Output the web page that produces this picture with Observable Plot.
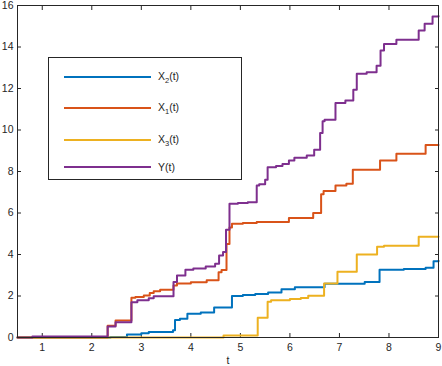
<!DOCTYPE html>
<html>
<head>
<meta charset="utf-8">
<script src="https://cdn.jsdelivr.net/npm/d3@7"></script>
<script src="https://cdn.jsdelivr.net/npm/@observablehq/plot@0.6"></script>
<style>
  html, body { margin: 0; padding: 0; background: #fff; }
  #wrap { position: relative; width: 442px; height: 366px; font-family: "Liberation Sans", Arial, Helvetica, sans-serif; }
  #legend { position: absolute; left: 48px; top: 57px; width: 194px; height: 123px; border: 1px solid #262626; background: #fff; box-sizing: border-box; }
  .item { position: absolute; left: 15px; height: 14px; display: flex; align-items: center; }
  .item .sw { width: 87px; height: 2px; }
  .item .lb { margin-left: 7px; font-size: 10.5px; color: #262626; white-space: nowrap; }
  .item .lb sub { font-size: 7.5px; vertical-align: -3px; }
</style>
</head>
<body>
<div id="wrap"><div id="legend"></div></div>
<script>
// Step-function data: [t, value] (value holds until next t)
const seriesX2 = [[0.5,0],[2.38,0.03],[2.71,0.14],[3.0,0.2],[3.15,0.27],[3.64,0.35],[3.68,0.84],[3.78,0.9],[3.93,1.15],[4.2,1.2],[4.47,1.45],[4.83,2.0],[5.05,2.05],[5.3,2.1],[5.56,2.17],[5.83,2.33],[6.10,2.42],[6.70,2.59],[7.51,2.67],[7.81,3.26],[8.3,3.3],[8.74,3.36],[8.90,3.68],[9.0,3.7]];
const seriesX1 = [[0.5,0],[2.32,0.57],[2.48,0.82],[2.80,1.91],[2.88,1.95],[3.05,2.02],[3.17,2.14],[3.25,2.23],[3.38,2.30],[3.65,2.51],[3.72,2.60],[4.0,2.66],[4.32,2.76],[4.56,3.15],[4.62,3.25],[4.72,4.51],[4.78,5.3],[4.83,5.48],[5.05,5.52],[5.33,5.57],[5.98,5.76],[6.47,6.0],[6.63,6.9],[6.68,7.06],[6.92,7.33],[7.14,7.41],[7.27,8.08],[7.82,8.53],[8.15,8.85],[8.74,9.28],[9.0,9.28]];
const seriesX3 = [[0.5,0],[4.66,0.1],[5.35,0.95],[5.55,1.72],[5.62,1.80],[6.0,1.85],[6.22,1.90],[6.37,2.01],[6.69,2.60],[6.96,3.17],[7.35,4.0],[7.76,4.37],[7.9,4.42],[8.60,4.86],[9.0,4.86]];
const seriesY = [[0.5,0],[0.8,0.05],[2.32,0.53],[2.48,0.74],[2.80,1.70],[2.92,1.79],[3.15,1.89],[3.25,1.99],[3.65,2.67],[3.72,2.99],[3.89,3.26],[4.05,3.32],[4.30,3.42],[4.49,3.55],[4.57,3.95],[4.65,4.12],[4.71,5.19],[4.78,6.44],[4.95,6.48],[5.15,6.52],[5.33,7.33],[5.38,7.38],[5.50,7.6],[5.55,8.2],[5.72,8.27],[5.85,8.36],[5.98,8.53],[6.09,8.66],[6.34,8.77],[6.49,9.05],[6.61,9.85],[6.66,10.42],[6.70,10.5],[6.92,11.3],[7.12,11.42],[7.28,11.94],[7.35,12.71],[7.55,12.78],[7.75,13.1],[7.83,13.83],[7.90,14.15],[8.15,14.35],[8.60,14.8],[8.72,15.12],[8.88,15.47],[9.0,15.5]];

const seriesNames = ["X₂(t)", "X₁(t)", "X₃(t)", "Y(t)"];
const legendHtml = ["X<sub>2</sub>(t)", "X<sub>1</sub>(t)", "X<sub>3</sub>(t)", "Y(t)"];
const seriesColors = ["#0072BD", "#D95319", "#EDB120", "#7E2F8E"];
const xTicks = [1, 2, 3, 4, 5, 6, 7, 8, 9];
const yTicks = [0, 2, 4, 6, 8, 10, 12, 14, 16];

const allSeries = [seriesX2, seriesX1, seriesX3, seriesY];
const rows = allSeries.flatMap((s, i) => s.map(([t, v]) => ({t, v, name: seriesNames[i]})));

const axisColor = "#262626";
const chart = Plot.plot({
  width: 442,
  height: 366,
  marginLeft: 17,
  marginRight: 4,
  marginTop: 5,
  marginBottom: 29,
  style: {fontFamily: "'Liberation Sans', Arial, Helvetica, sans-serif", fontSize: "10px", color: axisColor, background: "#fff"},
  x: {domain: [0.5, 9]},
  y: {domain: [0, 16]},
  color: {domain: seriesNames, range: seriesColors},
  marks: [
    Plot.axisX(xTicks, {anchor: "bottom", tickSize: -4, tickPadding: 10, stroke: axisColor, fill: axisColor, label: "t", labelAnchor: "center", labelArrow: "none", labelOffset: 26, fontSize: 10.5}),
    Plot.axisX(xTicks, {anchor: "top", tickSize: -4, tickFormat: () => "", stroke: axisColor, label: null}),
    Plot.axisY(yTicks, {anchor: "left", tickSize: -4, tickPadding: 8, stroke: axisColor, fill: axisColor, label: null, fontSize: 10.5}),
    Plot.axisY(yTicks, {anchor: "right", tickSize: -4, tickFormat: () => "", stroke: axisColor, label: null}),
    Plot.line(rows, {x: "t", y: "v", z: "name", stroke: "name", strokeWidth: 2, curve: "step-after"}),
    Plot.frame({stroke: axisColor, strokeWidth: 1})
  ]
});
document.getElementById("wrap").prepend(chart);

const legend = document.getElementById("legend");
const legendTops = [12, 43, 75, 102];
seriesNames.forEach((n, i) => {
  const it = document.createElement("div");
  it.className = "item";
  it.style.top = legendTops[i] + "px";
  it.innerHTML = `<div class="sw" style="background:${seriesColors[i]}"></div><div class="lb">${legendHtml[i]}</div>`;
  legend.appendChild(it);
});
</script>
</body>
</html>
